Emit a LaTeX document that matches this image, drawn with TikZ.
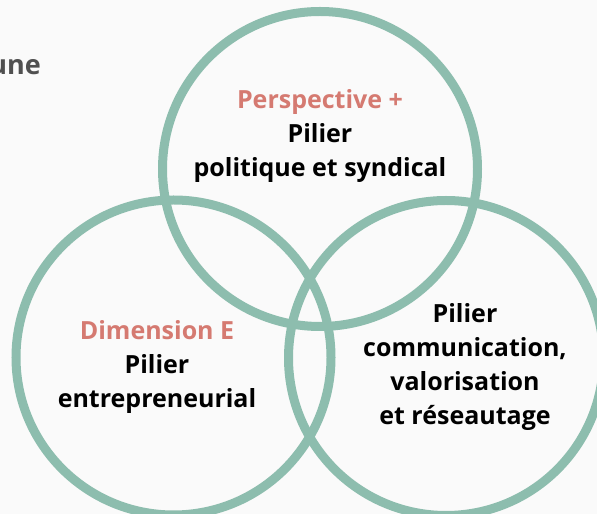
\documentclass[tikz,border=0pt]{standalone}
\usepackage{fontspec}
\setmainfont{Open Sans}
\usepackage{tikz}
\definecolor{ringgreen}{HTML}{8DBDAE}
\definecolor{titlered}{HTML}{D57A71}
\definecolor{paper}{HTML}{FAFAFA}
\definecolor{greytext}{HTML}{505050}
\tikzset{
	pillar/.style = {
		draw = ringgreen,
		line width = 9pt,
		circle,
		minimum size = 315pt,
		inner sep = 0pt
	},
	pillartext/.style = {
		align = center,
		font = \fontsize{25}{34}\selectfont\bfseries,
		text = black
	}
}
\newcommand{\heading}[1]{\textcolor{titlered}{#1}}

\begin{document}
\begin{tikzpicture}[x=1pt, y=1pt]
		\fill[paper] (0,0) rectangle (597,514);
		\clip (0,0) rectangle (597,514);
		\useasboundingbox (0,0) rectangle (597,514);
		
		\node[pillar] (pol) at (320,345) {};
		\node[pillar] (ent) at (173.5,156.5) {};
		\node[pillar] (com) at (446,156) {};
		
		\node[anchor=base east, inner xsep=0pt, font=\fontsize{27}{30}\selectfont\bfseries, text=greytext] (cut) at (41,439) {une};
		
		\node[pillartext] (poltext) at (320,378) {\heading{Perspective +} \\ Pilier \\ politique et syndical};
		\node[pillartext] (enttext) at (157,147) {\heading{Dimension E} \\ Pilier \\ entrepreneurial};
		\node[pillartext] (comtext) at (465,147) {Pilier \\ communication, \\ valorisation \\ et réseautage};
	\end{tikzpicture}
\end{document}
